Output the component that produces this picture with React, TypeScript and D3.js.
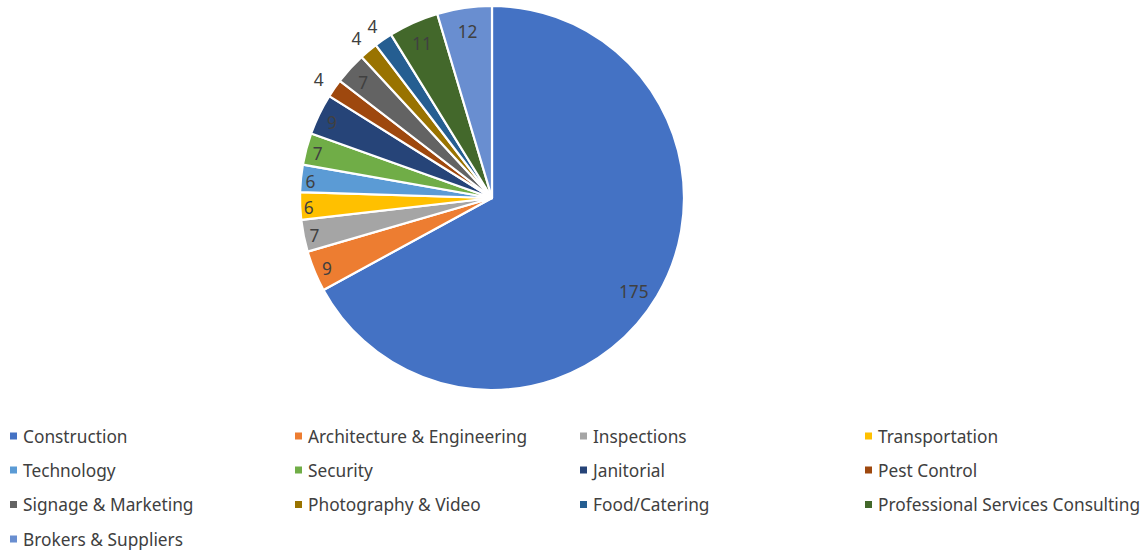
import React from "react";
import * as d3 from "d3";

const categories = [
  "Construction",
  "Architecture & Engineering",
  "Inspections",
  "Transportation",
  "Technology",
  "Security",
  "Janitorial",
  "Pest Control",
  "Signage & Marketing",
  "Photography & Video",
  "Food/Catering",
  "Professional Services Consulting",
  "Brokers & Suppliers",
];
const values = [175, 9, 7, 6, 6, 7, 9, 4, 7, 4, 4, 11, 12];
const colors = [
  "#4472C4",
  "#ED7D31",
  "#A5A5A5",
  "#FFC000",
  "#5B9BD5",
  "#70AD47",
  "#264478",
  "#9E480E",
  "#636363",
  "#997300",
  "#255E91",
  "#43682B",
  "#698ED0",
];

const W = 1148;
const H = 554;
const cx = 492;
const cy = 198;
const R = 192;
const FONT = "'Noto Sans', 'Open Sans', sans-serif";

export default function App() {
  const data = categories.map((c, i) => ({ name: c, value: values[i], color: colors[i] }));
  const pie = d3.pie<any>().value((d: any) => d.value).sort(null);
  const arcs = pie(data);
  const arc = d3.arc<any>().innerRadius(0).outerRadius(R);

  const labelPos = (a: any) => {
    let mid = (a.startAngle + a.endAngle) / 2;
    const span = a.endAngle - a.startAngle;
    let rr: number;
    if (a.data.value <= 4) rr = R + 19;
    else if (span > Math.PI) {
      rr = R - 23;
      mid += 0.04;
    } else rr = R - 8 - 14 * Math.abs(Math.cos(mid));
    return [Math.sin(mid) * rr, -Math.cos(mid) * rr + 2];
  };

  const colX = [10, 295, 580, 865];
  const rowY = [436, 470, 504.5, 539];

  return (
    <svg
      width={W}
      height={H}
      style={{ position: "absolute", left: 0, top: 0, background: "#fff" }}
      fontFamily={FONT}
    >
      <g transform={`translate(${cx},${cy})`}>
        {arcs.map((a, i) => (
          <path key={i} d={arc(a) as string} fill={a.data.color} stroke="#fff" strokeWidth={2.2} strokeLinejoin="round" />
        ))}
        {arcs.map((a, i) => {
          const [x, y] = labelPos(a);
          return (
            <text
              key={"l" + i}
              x={x}
              y={y}
              textAnchor="middle"
              dominantBaseline="central"
              fontSize={17.3}
              fill="#404040"
            >
              {a.data.value}
            </text>
          );
        })}
      </g>
      {data.map((d, i) => {
        const col = i % 4;
        const row = Math.floor(i / 4);
        const x = colX[col];
        const y = rowY[row];
        return (
          <g key={"lg" + i}>
            <rect x={x} y={y - 3.5} width={7} height={7} fill={d.color} />
            <text x={x + 13} y={y} dominantBaseline="central" fontSize={17.3} fill="#404040">
              {d.name}
            </text>
          </g>
        );
      })}
    </svg>
  );
}
